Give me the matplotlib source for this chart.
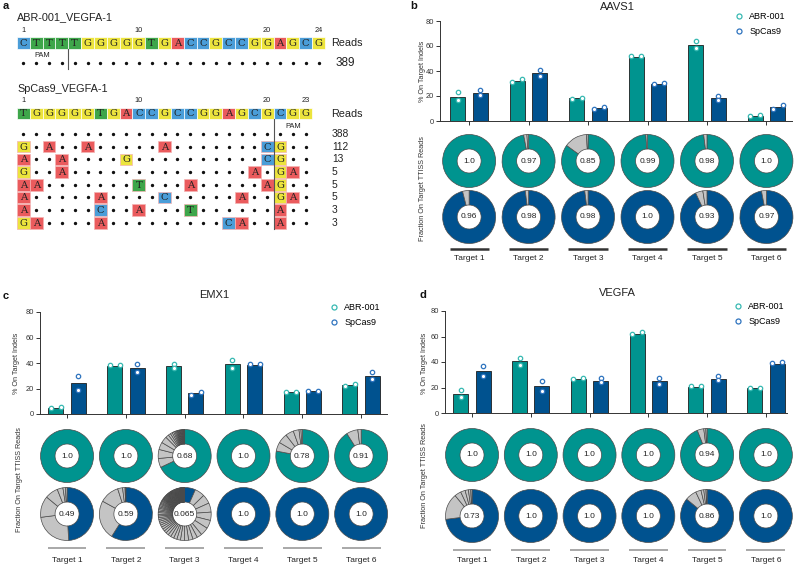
import matplotlib.pyplot as plt
import numpy as np
from matplotlib.patches import Rectangle
from matplotlib.lines import Line2D

plt.rcParams["font.family"] = ["Liberation Sans", "DejaVu Sans"]

W, H = 795, 566

TEAL = "#00948f"
BLUE = "#00528f"
TEAL_PT = "#38b9b2"
BLUE_PT = "#2f74bf"
OFF_GRAY = "#c4c4c4"
BASE_COL = {"A": "#ea5b5d", "C": "#4a9dd8", "G": "#ece43d", "T": "#3ea64a"}

targets = ["Target 1", "Target 2", "Target 3", "Target 4", "Target 5", "Target 6"]

# ---- panel a : read alignments
abr_name = "ABR-001_VEGFA-1"
abr_seq = "CTTTTGGGGGTGACCGCCGGAGCG"
abr_ticks = [1, 10, 20, 24]
abr_pam = (1, 4)
abr_reads = [389]

sp_name = "SpCas9_VEGFA-1"
sp_seq = "TGGGGGTGACCGCCGGAGCGCGG"
sp_ticks = [1, 10, 20, 23]
sp_pam = (21, 23)
sp_rows = [
    ".......................",
    "G.A..A.....A.......CG..",
    "A..A....G..........CG..",
    "G..A..............A.GA.",
    "AA.......T...A.....AG..",
    "A.....A....C.....A..GA.",
    "A.....C..A...T......A..",
    "GA....A.........CA..A..",
]
sp_reads = [388, 112, 13, 5, 5, 5, 3, 3]

# ---- panel b : AAVS1
aavs1_abr = [19.2, 32.0, 18.1, 51.2, 61.0, 4.3]
aavs1_abr_reps = [(23.2, 16.5), (31.0, 33.6), (17.9, 18.7), (51.7, 52.3), (63.7, 58.7), (4.3, 4.8)]
aavs1_sp = [22.7, 38.4, 10.4, 29.9, 18.1, 10.9]
aavs1_sp_reps = [(24.5, 21.0), (41.0, 36.3), (9.9, 10.9), (29.3, 30.7), (20.0, 17.0), (9.9, 12.5)]
aavs1_abr_on = [1.0, 0.97, 0.85, 0.99, 0.98, 1.0]
aavs1_abr_off = [[], [0.02, 0.01], [0.14, 0.01], [0.01], [0.02], []]
aavs1_sp_on = [0.96, 0.98, 0.98, 1.0, 0.93, 0.97]
aavs1_sp_off = [[0.04], [0.02], [0.02], [], [0.045, 0.025], [0.03]]

# ---- panel c : EMX1
emx1_abr = [4.4, 38.0, 37.5, 39.0, 16.9, 22.4]
emx1_abr_reps = [(4.9, 5.7), (38.3, 38.5), (39.6, 36.2), (42.7, 35.7), (16.9, 16.9), (21.9, 23.4)]
emx1_sp = [24.2, 35.9, 16.1, 38.8, 18.0, 30.0]
emx1_sp_reps = [(30.0, 19.0), (39.6, 32.6), (15.1, 17.4), (39.6, 39.6), (18.0, 18.2), (32.6, 27.3)]
emx1_abr_on = [1.0, 1.0, 0.68, 1.0, 0.78, 0.91]
emx1_abr_off = [
    [], [],
    [0.055, 0.055, 0.045, 0.04, 0.02, 0.015, 0.012, 0.01, 0.008, 0.007, 0.006,
     0.005, 0.005, 0.004, 0.004, 0.004, 0.003, 0.003, 0.003, 0.002, 0.002,
     0.002, 0.002, 0.002, 0.002, 0.001, 0.001, 0.001, 0.001],
    [],
    [0.055, 0.06, 0.05, 0.035, 0.012, 0.008],
    [0.07, 0.02],
]
emx1_sp_on = [0.49, 0.59, 0.065, 1.0, 1.0, 1.0]
emx1_sp_off = [
    [0.24, 0.13, 0.08, 0.035, 0.015, 0.01],
    [0.24, 0.12, 0.03, 0.015, 0.005],
    [0.06, 0.055, 0.055, 0.05, 0.05, 0.05,
     0.03, 0.028, 0.026, 0.025, 0.024, 0.022, 0.02, 0.02, 0.018, 0.017,
     0.015, 0.014, 0.014, 0.013, 0.012, 0.012, 0.011, 0.011, 0.01, 0.01, 0.01,
     0.009, 0.009, 0.009, 0.008, 0.008, 0.008, 0.007, 0.007, 0.007, 0.006, 0.006,
     0.005, 0.005, 0.005, 0.005, 0.005, 0.005,
     0.004, 0.004, 0.004, 0.004, 0.004, 0.004, 0.004, 0.004,
     0.003, 0.003, 0.003, 0.003, 0.003, 0.003, 0.003, 0.003, 0.003, 0.003,
     0.002, 0.002, 0.002, 0.002, 0.002, 0.002, 0.002, 0.002, 0.002, 0.002,
     0.002, 0.002, 0.002, 0.002, 0.002, 0.002,
     0.001, 0.001, 0.001, 0.001, 0.001, 0.001, 0.001, 0.001, 0.001, 0.001,
     0.001, 0.001, 0.001, 0.001, 0.001, 0.001, 0.001, 0.001, 0.001, 0.001,
     0.001, 0.001, 0.001, 0.001, 0.001, 0.001, 0.001, 0.001, 0.001, 0.001],
    [], [], [],
]

# ---- panel d : VEGFA
vegfa_abr = [15.2, 40.5, 26.7, 62.2, 20.4, 19.6]
vegfa_abr_reps = [(17.8, 12.5), (43.4, 37.6), (26.4, 27.5), (61.7, 63.8), (20.9, 20.9), (19.9, 19.9)]
vegfa_sp = [32.9, 20.9, 25.4, 24.8, 26.9, 38.2]
vegfa_sp_reps = [(37.1, 28.8), (24.8, 17.5), (27.5, 24.0), (27.5, 23.0), (29.3, 25.6), (39.0, 39.7)]
vegfa_abr_on = [1.0, 1.0, 1.0, 1.0, 0.94, 1.0]
vegfa_abr_off = [[], [], [], [], [0.04, 0.012, 0.008], []]
vegfa_sp_on = [0.73, 1.0, 1.0, 1.0, 0.86, 1.0]
vegfa_sp_off = [[0.16, 0.04, 0.028, 0.02, 0.014, 0.008], [], [], [],
                [0.07, 0.033, 0.017, 0.013, 0.007], []]

fig = plt.figure(figsize=(W / 100, H / 100), dpi=100)


def px_axes(x0, y0, x1, y1):
    # axes placed with pixel edges (top-left origin)
    return fig.add_axes([x0 / W, 1 - y1 / H, (x1 - x0) / W, (y1 - y0) / H])


def fig_text(x, y, s, **kw):
    fig.text(x / W, 1 - y / H, s, **kw)


# ================= panel a
axa = px_axes(0, 0, 400, 260)
axa.set_xlim(0, 400)
axa.set_ylim(260, 0)
axa.axis("off")
X0, CW, BH = 17, 12.83, 11.5


def col_x(i):
    return X0 + CW * (i - 0.5)


def base_box(ch, i, y, edge="white"):
    axa.add_patch(Rectangle((col_x(i) - CW / 2, y - BH / 2), CW, BH,
                            facecolor=BASE_COL[ch], edgecolor=edge, lw=0.5))
    axa.text(col_x(i), y + 0.3, ch, ha="center", va="center",
             family="DejaVu Serif", fontsize=7.2, color="#222")


def alignment(name, seq, ticks, pam, rows, reads, y_name, y_seq, y_rows, x_reads, reads_fs):
    axa.text(X0, y_name, name, ha="left", va="center", fontsize=7.8, color="#222")
    for t in ticks:
        axa.text(col_x(t), y_seq - 13, str(t), ha="center", va="center", fontsize=5.3, color="#222")
    for i, ch in enumerate(seq, start=1):
        base_box(ch, i, y_seq)
    axa.text(331, y_seq + 0.5, "Reads", ha="left", va="center", fontsize=7.8, color="#222")
    # PAM label and boundary line
    axa.text((col_x(pam[0]) + col_x(pam[1])) / 2, y_seq + 12.5, "PAM",
             ha="center", va="center", fontsize=5.3, color="#222")
    line_x = col_x(pam[1]) + CW / 2 if pam[0] == 1 else col_x(pam[0]) - CW / 2
    axa.plot([line_x, line_x], [y_seq + BH / 2, y_rows[-1] + 6], color="#555", lw=0.8)
    for row, n, y in zip(rows, reads, y_rows):
        for i, ch in enumerate(row, start=1):
            if ch == ".":
                axa.plot(col_x(i), y, "o", ms=1.4, color="#111")
            else:
                base_box(ch, i, y, edge="#f4b4b4")
        axa.text(x_reads, y, str(n), ha="left", va="center", fontsize=reads_fs, color="#222")


alignment(abr_name, abr_seq, abr_ticks, abr_pam, ["." * len(abr_seq)], abr_reads,
          17, 43, [63], 336, 8.5)
alignment(sp_name, sp_seq, sp_ticks, sp_pam, sp_rows, sp_reads,
          89, 113.5, [134 + 12.7 * k for k in range(len(sp_rows))], 332, 7.4)


# ================= bar + donut panels
def bar_panel(box, xlim, abr, abr_reps, sp, sp_reps, title, title_y, leg_xy):
    ax = px_axes(*box)
    x = np.arange(len(targets))
    ax.bar(x - 0.19, abr, 0.255, color=TEAL, edgecolor="#1e1e1e", linewidth=0.6, zorder=2)
    ax.bar(x + 0.19, sp, 0.255, color=BLUE, edgecolor="#1e1e1e", linewidth=0.6, zorder=2)
    for off, reps, col in [(-0.19, abr_reps, TEAL_PT), (0.19, sp_reps, BLUE_PT)]:
        for xi, (r1, r2) in zip(x + off, reps):
            dx = 0.085 if abs(r1 - r2) < 3 else 0.0
            ax.scatter([xi - dx, xi + dx], [r1, r2], s=10, facecolor="white",
                       edgecolor=col, linewidth=0.9, zorder=3)
    ax.set_xlim(xlim)
    ax.set_ylim(0, 80)
    ax.set_yticks([0, 20, 40, 60, 80])
    ax.set_xticks(x)
    ax.set_xticklabels([])
    for s in ["top", "right"]:
        ax.spines[s].set_visible(False)
    for s in ["left", "bottom"]:
        ax.spines[s].set_color("#333")
        ax.spines[s].set_linewidth(0.7)
    ax.tick_params(labelsize=5.4, length=3, width=0.7, color="#333", labelcolor="#333", pad=1.5)
    cx = (box[0] + box[2]) / 2
    fig_text(cx + 1, title_y, title, ha="center", va="center", fontsize=8, color="#222")
    handles = [Line2D([], [], marker="o", ls="", mfc="white", mec=TEAL_PT, ms=3.6, mew=0.9),
               Line2D([], [], marker="o", ls="", mfc="white", mec=BLUE_PT, ms=3.6, mew=0.9)]
    ax.legend(handles, ["ABR-001", "SpCas9"], loc="upper left",
              bbox_to_anchor=(leg_xy[0] / W, 1 - leg_xy[1] / H), bbox_transform=fig.transFigure,
              frameon=False, fontsize=6.5, handlelength=1.0, handletextpad=0.7,
              labelspacing=0.65, borderpad=0, borderaxespad=0)
    return ax


def donut_panel(box, xlim, rows_px, line_px, label_px, on_abr, off_abr, on_sp, off_sp,
                line_color, line_w):
    x0, y0, x1, y1 = box
    ax = px_axes(*box)
    ppu = (x1 - x0) / (xlim[1] - xlim[0])
    ytop = (y1 - y0) / ppu

    def to_y(ypx):
        return (y1 - ypx) / ppu

    r, w = 26.5 / ppu, 14.5 / ppu
    for row_y, ons, offs, col in [(rows_px[0], on_abr, off_abr, TEAL),
                                  (rows_px[1], on_sp, off_sp, BLUE)]:
        for i, (on, off) in enumerate(zip(ons, offs)):
            ax.pie([on] + off, colors=[col] + [OFF_GRAY] * len(off), startangle=90,
                   counterclock=False, center=(i, to_y(row_y)), radius=r, frame=True,
                   wedgeprops=dict(width=w, edgecolor="#4a4a4a", linewidth=0.5))
            ax.text(i, to_y(row_y), str(on), ha="center", va="center", fontsize=6,
                    color="#222", zorder=5)
    for i, t in enumerate(targets):
        ax.plot([i - 0.33, i + 0.33], [to_y(line_px)] * 2, color=line_color, lw=line_w,
                solid_capstyle="butt")
        ax.text(i, to_y(label_px), t, ha="center", va="center", fontsize=6, color="#222")
    ax.set_xlim(xlim)
    ax.set_ylim(0, ytop)
    ax.set_aspect("auto")
    ax.axis("off")


# b
xlim_b = (-0.49, 5.43)
bar_panel((440, 21, 792, 121), xlim_b, aavs1_abr, aavs1_abr_reps, aavs1_sp, aavs1_sp_reps,
          "AAVS1", 7, (734, 12))
donut_panel((440, 128, 792, 266), xlim_b, (161, 217), 249, 259,
            aavs1_abr_on, aavs1_abr_off, aavs1_sp_on, aavs1_sp_off, "#333", 1.8)
fig_text(423, 71, "% On Target Indels", rotation=90, ha="center", va="center", fontsize=5.2, color="#333")
fig_text(423, 189, "Fraction On Target TTISS Reads", rotation=90, ha="center", va="center",
         fontsize=5.2, color="#333")

# c
xlim_c = (-0.46, 5.44)
bar_panel((40, 312, 387, 414), xlim_c, emx1_abr, emx1_abr_reps, emx1_sp, emx1_sp_reps,
          "EMX1", 295, (329, 303))
donut_panel((40, 425, 387, 566), xlim_c, (456, 514), 548, 560,
            emx1_abr_on, emx1_abr_off, emx1_sp_on, emx1_sp_off, "#999", 1.2)
fig_text(16, 363, "% On Target Indels", rotation=90, ha="center", va="center", fontsize=5.2, color="#333")
fig_text(20, 480, "Fraction On Target TTISS Reads", rotation=90, ha="center", va="center",
         fontsize=5.2, color="#333")

# d
xlim_d = (-0.46, 5.36)
bar_panel((445, 311, 787, 413), xlim_d, vegfa_abr, vegfa_abr_reps, vegfa_sp, vegfa_sp_reps,
          "VEGFA", 293, (733, 302))
donut_panel((445, 425, 787, 566), xlim_d, (455, 516), 550, 561,
            vegfa_abr_on, vegfa_abr_off, vegfa_sp_on, vegfa_sp_off, "#999", 1.2)
fig_text(424, 363, "% On Target Indels", rotation=90, ha="center", va="center", fontsize=5.2, color="#333")
fig_text(424, 476, "Fraction On Target TTISS Reads", rotation=90, ha="center", va="center",
         fontsize=5.2, color="#333")

# panel letters
for s, x, y in [("a", 3, 6), ("b", 410, 6), ("c", 3, 296), ("d", 419, 295)]:
    fig_text(x, y, s, ha="left", va="center", fontsize=8, fontweight="bold", color="#111")

fig.savefig("out.png", dpi=100)
